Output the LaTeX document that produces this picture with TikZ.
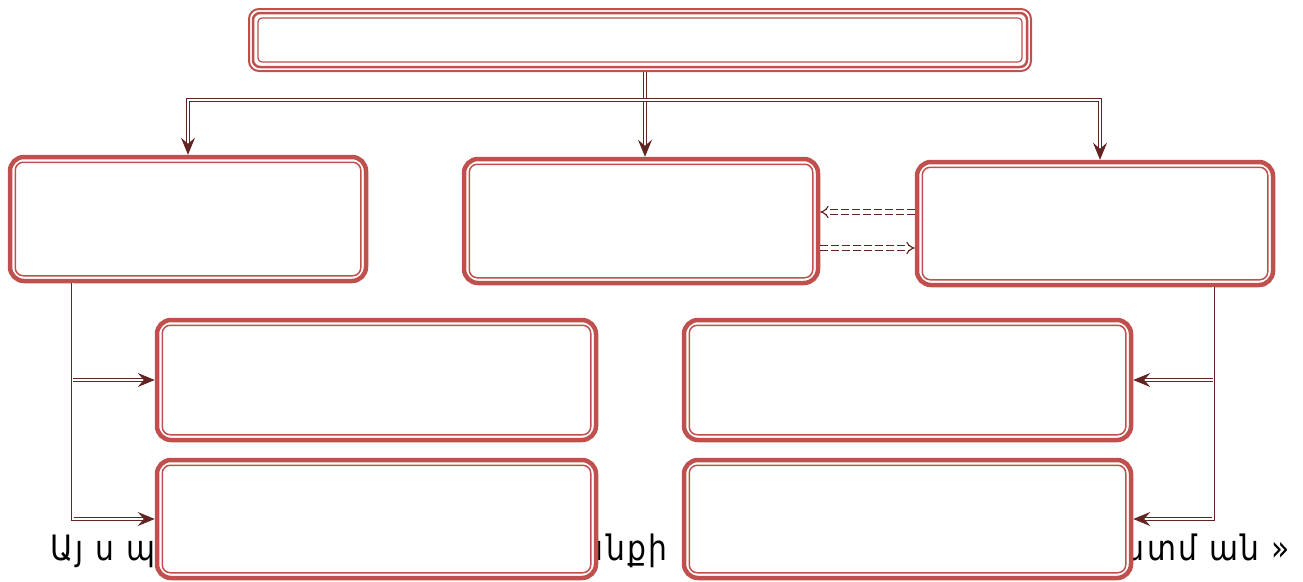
\documentclass[tikz,border=0pt]{standalone}
\usepackage{fontspec}
\newfontfamily\armfont[FakeStretch=0.85, LetterSpace=7]{DejaVu Sans}
\usetikzlibrary{arrows.meta}
\definecolor{boxred}{HTML}{C0504D}
\definecolor{linkred}{HTML}{632523}
\begin{document}
\begin{tikzpicture}[x=1pt,y=-1pt,
    panel/.style={draw=boxred, line width=4.5pt, fill=white, rounded corners=14pt,
      inner sep=0pt, minimum width=#1},
    innerline/.style={draw=boxred, line width=1.5pt, rounded corners=8pt},
    link/.style={draw=linkred, line width=0.9pt, double=white, double distance=1.6pt,
      -{Stealth[length=17pt, width=14pt, inset=6pt]}},
    dasharrow/.style={draw=linkred, line width=1.1pt, double=white, double distance=3.2pt,
      dash pattern=on 8pt off 3pt, -{Implies[scale=1.6]}},
    armtext/.style={font=\armfont\fontsize{35}{40}\selectfont, inner sep=0pt}]
        \useasboundingbox (0,0) rectangle (1303,581);

        % text line behind the lower boxes
        \node[armtext, anchor=base west] (armA) at (50,560) {Այ ս պի};
        \node[armtext, anchor=base east] (armB) at (668,560) {ննքի};
        \node[armtext, anchor=base east] (armC) at (1290,560) {ն ատմ ան »};

        % title box
        \node[draw=boxred, line width=2pt, fill=white, rounded corners=10pt,
          minimum width=782pt, minimum height=62pt] (top) at (640,40) {};
        \draw[draw=boxred, line width=2.5pt, rounded corners=7pt]
          ([shift={(5pt,-5pt)}]top.north west) rectangle ([shift={(-5pt,5pt)}]top.south east);
        \draw[draw=boxred, line width=1.2pt, rounded corners=4pt]
          ([shift={(10pt,-10pt)}]top.north west) rectangle ([shift={(-10pt,10pt)}]top.south east);

        % second row
        \node[panel=356pt, minimum height=124pt] (lt) at (188,219) {};
        \node[panel=354pt, minimum height=124pt] (md) at (641,221) {};
        \node[panel=356pt, minimum height=123pt] (rt) at (1095,223.5) {};

        % lower rows
        \node[panel=439pt, minimum height=120pt] (la) at (376.5,380) {};
        \node[panel=447pt, minimum height=120pt] (ra) at (907.5,380) {};
        \node[panel=439pt, minimum height=118pt] (lb) at (376.5,519) {};
        \node[panel=447pt, minimum height=118pt] (rb) at (907.5,519) {};

        \foreach \b in {lt,md,rt,la,ra,lb,rb}
          \draw[innerline] ([shift={(7.5pt,-7.5pt)}]\b.north west) rectangle ([shift={(-7.5pt,7.5pt)}]\b.south east);

        % connectors from the title
        \coordinate (drop) at ([xshift=5pt]top.south);
        \coordinate (split) at (drop |- 0,100);
        \draw[link] (drop) -- (drop |- md.north);
        \draw[link] (split) -| (lt.north);
        \draw[link] (split) -| ([xshift=5pt]rt.north);

        % left branch
        \coordinate (lfoot) at ([xshift=65pt]lt.south west);
        \draw[link] (lfoot) |- (lb.west);
        \draw[link] (lfoot |- la.west) -- (la.west);

        % right branch
        \coordinate (rfoot) at ([xshift=-62pt]rt.south east);
        \draw[link] (rfoot) |- (rb.east);
        \draw[link] (rfoot |- ra.east) -- (ra.east);

        % between middle and right
        \draw[dasharrow] ([yshift=11.5pt]rt.west) -- ([yshift=11.5pt]rt.west -| md.east);
        \draw[dasharrow] ([yshift=-24.5pt]rt.west -| md.east) -- ([yshift=-24.5pt]rt.west);
    \end{tikzpicture}
\end{document}
